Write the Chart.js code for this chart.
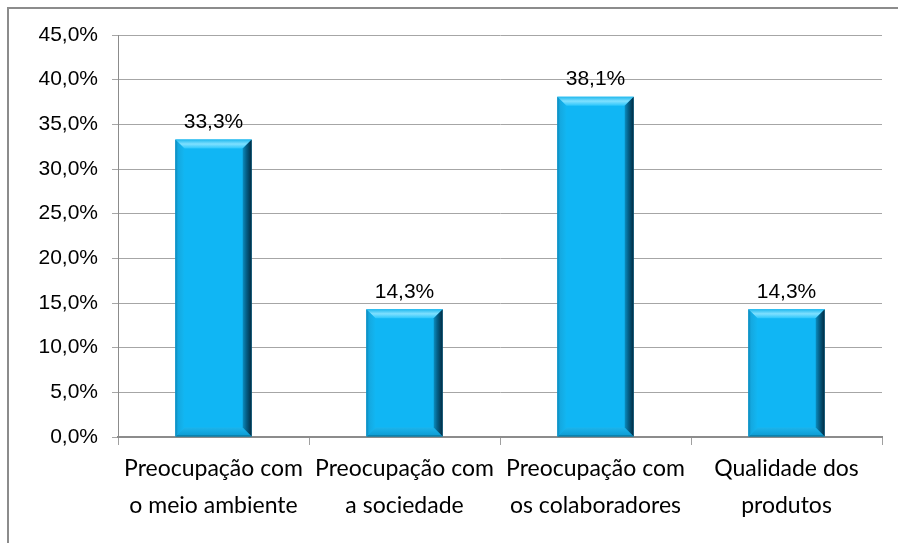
<!DOCTYPE html>
<html>
<head>
<meta charset="utf-8">
<script src="https://cdn.jsdelivr.net/npm/chart.js@4"></script>
<style>
  html, body { margin: 0; padding: 0; background: #fff; overflow: hidden; }
  #frame { position: absolute; left: 7px; top: 7px; width: 1000px; height: 1000px; border: 2px solid #8c8c8c; box-sizing: border-box; }
  #chart { position: absolute; left: 0; top: 0; }
</style>
</head>
<body>
<div id="frame"></div>
<canvas id="chart" width="898" height="543"></canvas>
<script>
const categories = [
    ['Preocupação com', 'o meio ambiente'],
    ['Preocupação com', 'a sociedade'],
    ['Preocupação com', 'os colaboradores'],
    ['Qualidade dos', 'produtos']
];
const values = [33.3, 14.3, 38.1, 14.3];
const yTicks = ['0,0%', '5,0%', '10,0%', '15,0%', '20,0%', '25,0%', '30,0%', '35,0%', '40,0%', '45,0%'];

const fmt = v => v.toFixed(1).replace('.', ',') + '%';

// bevelled bars + value labels on top
const bevelBars = {
    id: 'bevelBars',
    afterDatasetsDraw(chart) {
        const ctx = chart.ctx;
        const meta = chart.getDatasetMeta(0);
        meta.data.forEach((bar, i) => {
            const l = bar.x - bar.width / 2, r = bar.x + bar.width / 2;
            const t = bar.y, b = bar.base;
            const s = 9;
            ctx.save();
            // top
            let g = ctx.createLinearGradient(0, t, 0, t + s);
            g.addColorStop(0, '#1fb8ee');
            g.addColorStop(0.5, '#7fe0ff');
            g.addColorStop(1, '#2cc6fb');
            ctx.fillStyle = g;
            ctx.beginPath();
            ctx.moveTo(l, t); ctx.lineTo(r, t); ctx.lineTo(r - s, t + s); ctx.lineTo(l + s, t + s);
            ctx.closePath(); ctx.fill();
            // bottom
            g = ctx.createLinearGradient(0, b - s, 0, b);
            g.addColorStop(0, '#1cb4ec');
            g.addColorStop(0.8, '#0f9fd6');
            g.addColorStop(1, '#05607f');
            ctx.fillStyle = g;
            ctx.beginPath();
            ctx.moveTo(l, b); ctx.lineTo(r, b); ctx.lineTo(r - s, b - s); ctx.lineTo(l + s, b - s);
            ctx.closePath(); ctx.fill();
            // left
            g = ctx.createLinearGradient(l, 0, l + s, 0);
            g.addColorStop(0, '#0a86b8');
            g.addColorStop(0.3, '#14a8e0');
            g.addColorStop(1, '#12b6f2');
            ctx.fillStyle = g;
            ctx.beginPath();
            ctx.moveTo(l, t); ctx.lineTo(l + s, t + s); ctx.lineTo(l + s, b - s); ctx.lineTo(l, b);
            ctx.closePath(); ctx.fill();
            // right
            g = ctx.createLinearGradient(r - s - 2, 0, r, 0);
            g.addColorStop(0, '#0ea6dd');
            g.addColorStop(0.5, '#05618a');
            g.addColorStop(1, '#012a40');
            ctx.fillStyle = g;
            ctx.beginPath();
            ctx.moveTo(r, t); ctx.lineTo(r - s, t + s); ctx.lineTo(r - s, b - s); ctx.lineTo(r, b);
            ctx.closePath(); ctx.fill();

            ctx.fillStyle = '#000';
            ctx.font = '21px "Liberation Sans", Arial, sans-serif';
            ctx.textAlign = 'center';
            ctx.textBaseline = 'bottom';
            ctx.fillText(fmt(values[i]), bar.x, t - 7);
            ctx.restore();
        });
    }
};

new Chart(document.getElementById('chart'), {
    type: 'bar',
    data: {
        labels: categories,
        datasets: [{
            data: values,
            backgroundColor: '#10b6f4',
            borderWidth: 0,
            barPercentage: 0.4,
            categoryPercentage: 1.0
        }]
    },
    options: {
        responsive: false,
        animation: false,
        layout: { padding: { top: 35, right: 16, left: 0, bottom: 0 } },
        plugins: { legend: { display: false }, tooltip: { enabled: false } },
        scales: {
            x: {
                grid: { drawOnChartArea: false, drawTicks: true, tickLength: 8, color: '#a0a0a0' },
                border: { color: '#8c8c8c', width: 2 },
                ticks: {
                    color: '#000',
                    padding: 5,
                    maxRotation: 0,
                    autoSkip: false,
                    font: { family: 'Lato, "Open Sans", sans-serif', size: 23, lineHeight: 1.62 }
                },
                afterFit(scale) { scale.height = 106; }
            },
            y: {
                min: 0,
                max: 45,
                ticks: {
                    stepSize: 5,
                    color: '#000',
                    padding: 14,
                    font: { family: '"Liberation Sans", Arial, sans-serif', size: 21 },
                    callback: (v, i) => yTicks[i]
                },
                grid: { color: '#a6a6a6', lineWidth: 1, tickLength: 6 },
                border: { color: '#8c8c8c', width: 1 },
                afterFit(scale) { scale.width = 118; }
            }
        }
    },
    plugins: [bevelBars]
});
</script>
</body>
</html>
